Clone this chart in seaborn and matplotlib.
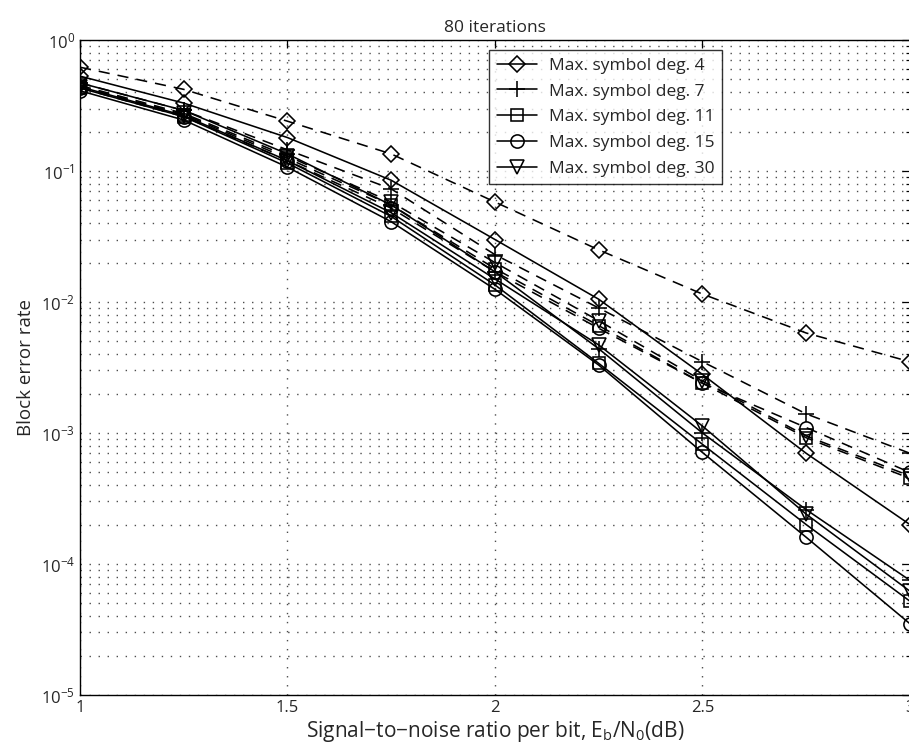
import matplotlib
matplotlib.use("Agg")
import matplotlib.pyplot as plt
import seaborn as sns
import pandas as pd
from matplotlib.ticker import LogLocator, FixedLocator

# Eb/N0 (dB) sample points
snr = [1.0, 1.25, 1.5, 1.75, 2.0, 2.25, 2.5, 2.75, 3.0]

labels = ["Max. symbol deg. 4", "Max. symbol deg. 7", "Max. symbol deg. 11",
          "Max. symbol deg. 15", "Max. symbol deg. 30"]
markers = ["D", "+", "s", "o", "v"]

# solid curves
solid_deg4 = [0.53, 0.33, 0.18, 0.085, 0.030, 0.0105, 0.0028, 0.00070, 0.00020]
solid_deg7 = [0.47, 0.29, 0.135, 0.055, 0.017, 0.0044, 0.0010, 0.00026, 0.000075]
solid_deg11 = [0.43, 0.26, 0.115, 0.045, 0.0135, 0.0034, 0.00082, 0.00020, 0.000052]
solid_deg15 = [0.41, 0.245, 0.107, 0.041, 0.0125, 0.0033, 0.00071, 0.00016, 0.000035]
solid_deg30 = [0.44, 0.265, 0.12, 0.048, 0.015, 0.0047, 0.00113, 0.00024, 0.000062]

# dashed curves
dashed_deg4 = [0.62, 0.42, 0.24, 0.135, 0.058, 0.025, 0.0115, 0.0058, 0.0035]
dashed_deg7 = [0.47, 0.29, 0.145, 0.073, 0.023, 0.0090, 0.0035, 0.0014, 0.00070]
dashed_deg11 = [0.44, 0.27, 0.125, 0.055, 0.018, 0.0066, 0.0024, 0.00092, 0.00045]
dashed_deg15 = [0.43, 0.26, 0.12, 0.052, 0.017, 0.0063, 0.0024, 0.0011, 0.00050]
dashed_deg30 = [0.45, 0.275, 0.13, 0.058, 0.020, 0.0072, 0.0025, 0.00095, 0.00047]

solid = [solid_deg4, solid_deg7, solid_deg11, solid_deg15, solid_deg30]
dashed = [dashed_deg4, dashed_deg7, dashed_deg11, dashed_deg15, dashed_deg30]

sns.set_style("white")
plt.rcParams["font.family"] = ["Open Sans", "DejaVu Sans"]
plt.rcParams["mathtext.fontset"] = "custom"
plt.rcParams["mathtext.rm"] = "Open Sans"

fig = plt.figure(figsize=(9.09, 7.55), dpi=100)
ax = fig.add_axes([0.088, 0.0795, 0.913, 0.8675])


def msize(mk):
    return {"D": 8, "+": 11, "s": 8, "o": 9.5, "v": 9.5}[mk]


handles = []
for lab, mk, ys in zip(labels, markers, solid):
    df = pd.DataFrame({"snr": snr, "ber": ys})
    sns.lineplot(data=df, x="snr", y="ber", ax=ax, color="black",
                 linestyle="-", linewidth=1.15, marker=mk, markersize=msize(mk),
                 markerfacecolor="none", markeredgecolor="black",
                 markeredgewidth=1.15)
    handles.append(ax.lines[-1])

for mk, ys in zip(markers, dashed):
    df = pd.DataFrame({"snr": snr, "ber": ys})
    sns.lineplot(data=df, x="snr", y="ber", ax=ax, color="black",
                 linewidth=1.15, marker=mk, markersize=msize(mk),
                 markerfacecolor="none", markeredgecolor="black",
                 markeredgewidth=1.15)
    ax.lines[-1].set_linestyle((0, (7, 5)))

ax.set_yscale("log")
ax.set_xlim(1, 3)
ax.set_ylim(1e-5, 1)
ax.xaxis.set_major_locator(FixedLocator([1, 1.5, 2, 2.5, 3]))
ax.set_xticklabels(["1", "1.5", "2", "2.5", "3"])
ax.yaxis.set_major_locator(LogLocator(base=10, numticks=10))
ax.yaxis.set_minor_locator(LogLocator(base=10, subs=range(2, 10), numticks=20))

grid_style = dict(linestyle=(0, (1, 5.5)), color="0.3", linewidth=1.0)
ax.grid(True, which="major", axis="both", **grid_style)
ax.grid(True, which="minor", axis="y", **grid_style)
ax.tick_params(which="both", direction="in", top=True, right=True,
               labelsize=12, length=6, width=0.9, color="black")
ax.tick_params(which="minor", length=3)
for sp in ax.spines.values():
    sp.set_color("black")
    sp.set_linewidth(1.0)

ax.set_xlabel("Signal\u2212to\u2212noise ratio per bit, E$_\\mathregular{b}$/N$_\\mathregular{0}$(dB)",
              fontsize=15, labelpad=2)
ax.set_ylabel("Block error rate", fontsize=13.5)
ax.set_title("80 iterations", fontsize=12.5, pad=6)

leg = ax.legend(handles, labels, loc="upper left", bbox_to_anchor=(0.493, 0.985),
                borderaxespad=0, fontsize=12.5, frameon=True, fancybox=False,
                edgecolor="black", handlelength=2.3, borderpad=0.45,
                labelspacing=0.55, numpoints=1, handletextpad=0.7)
leg.get_frame().set_linewidth(1.0)

fig.savefig("out.png", dpi=100)
